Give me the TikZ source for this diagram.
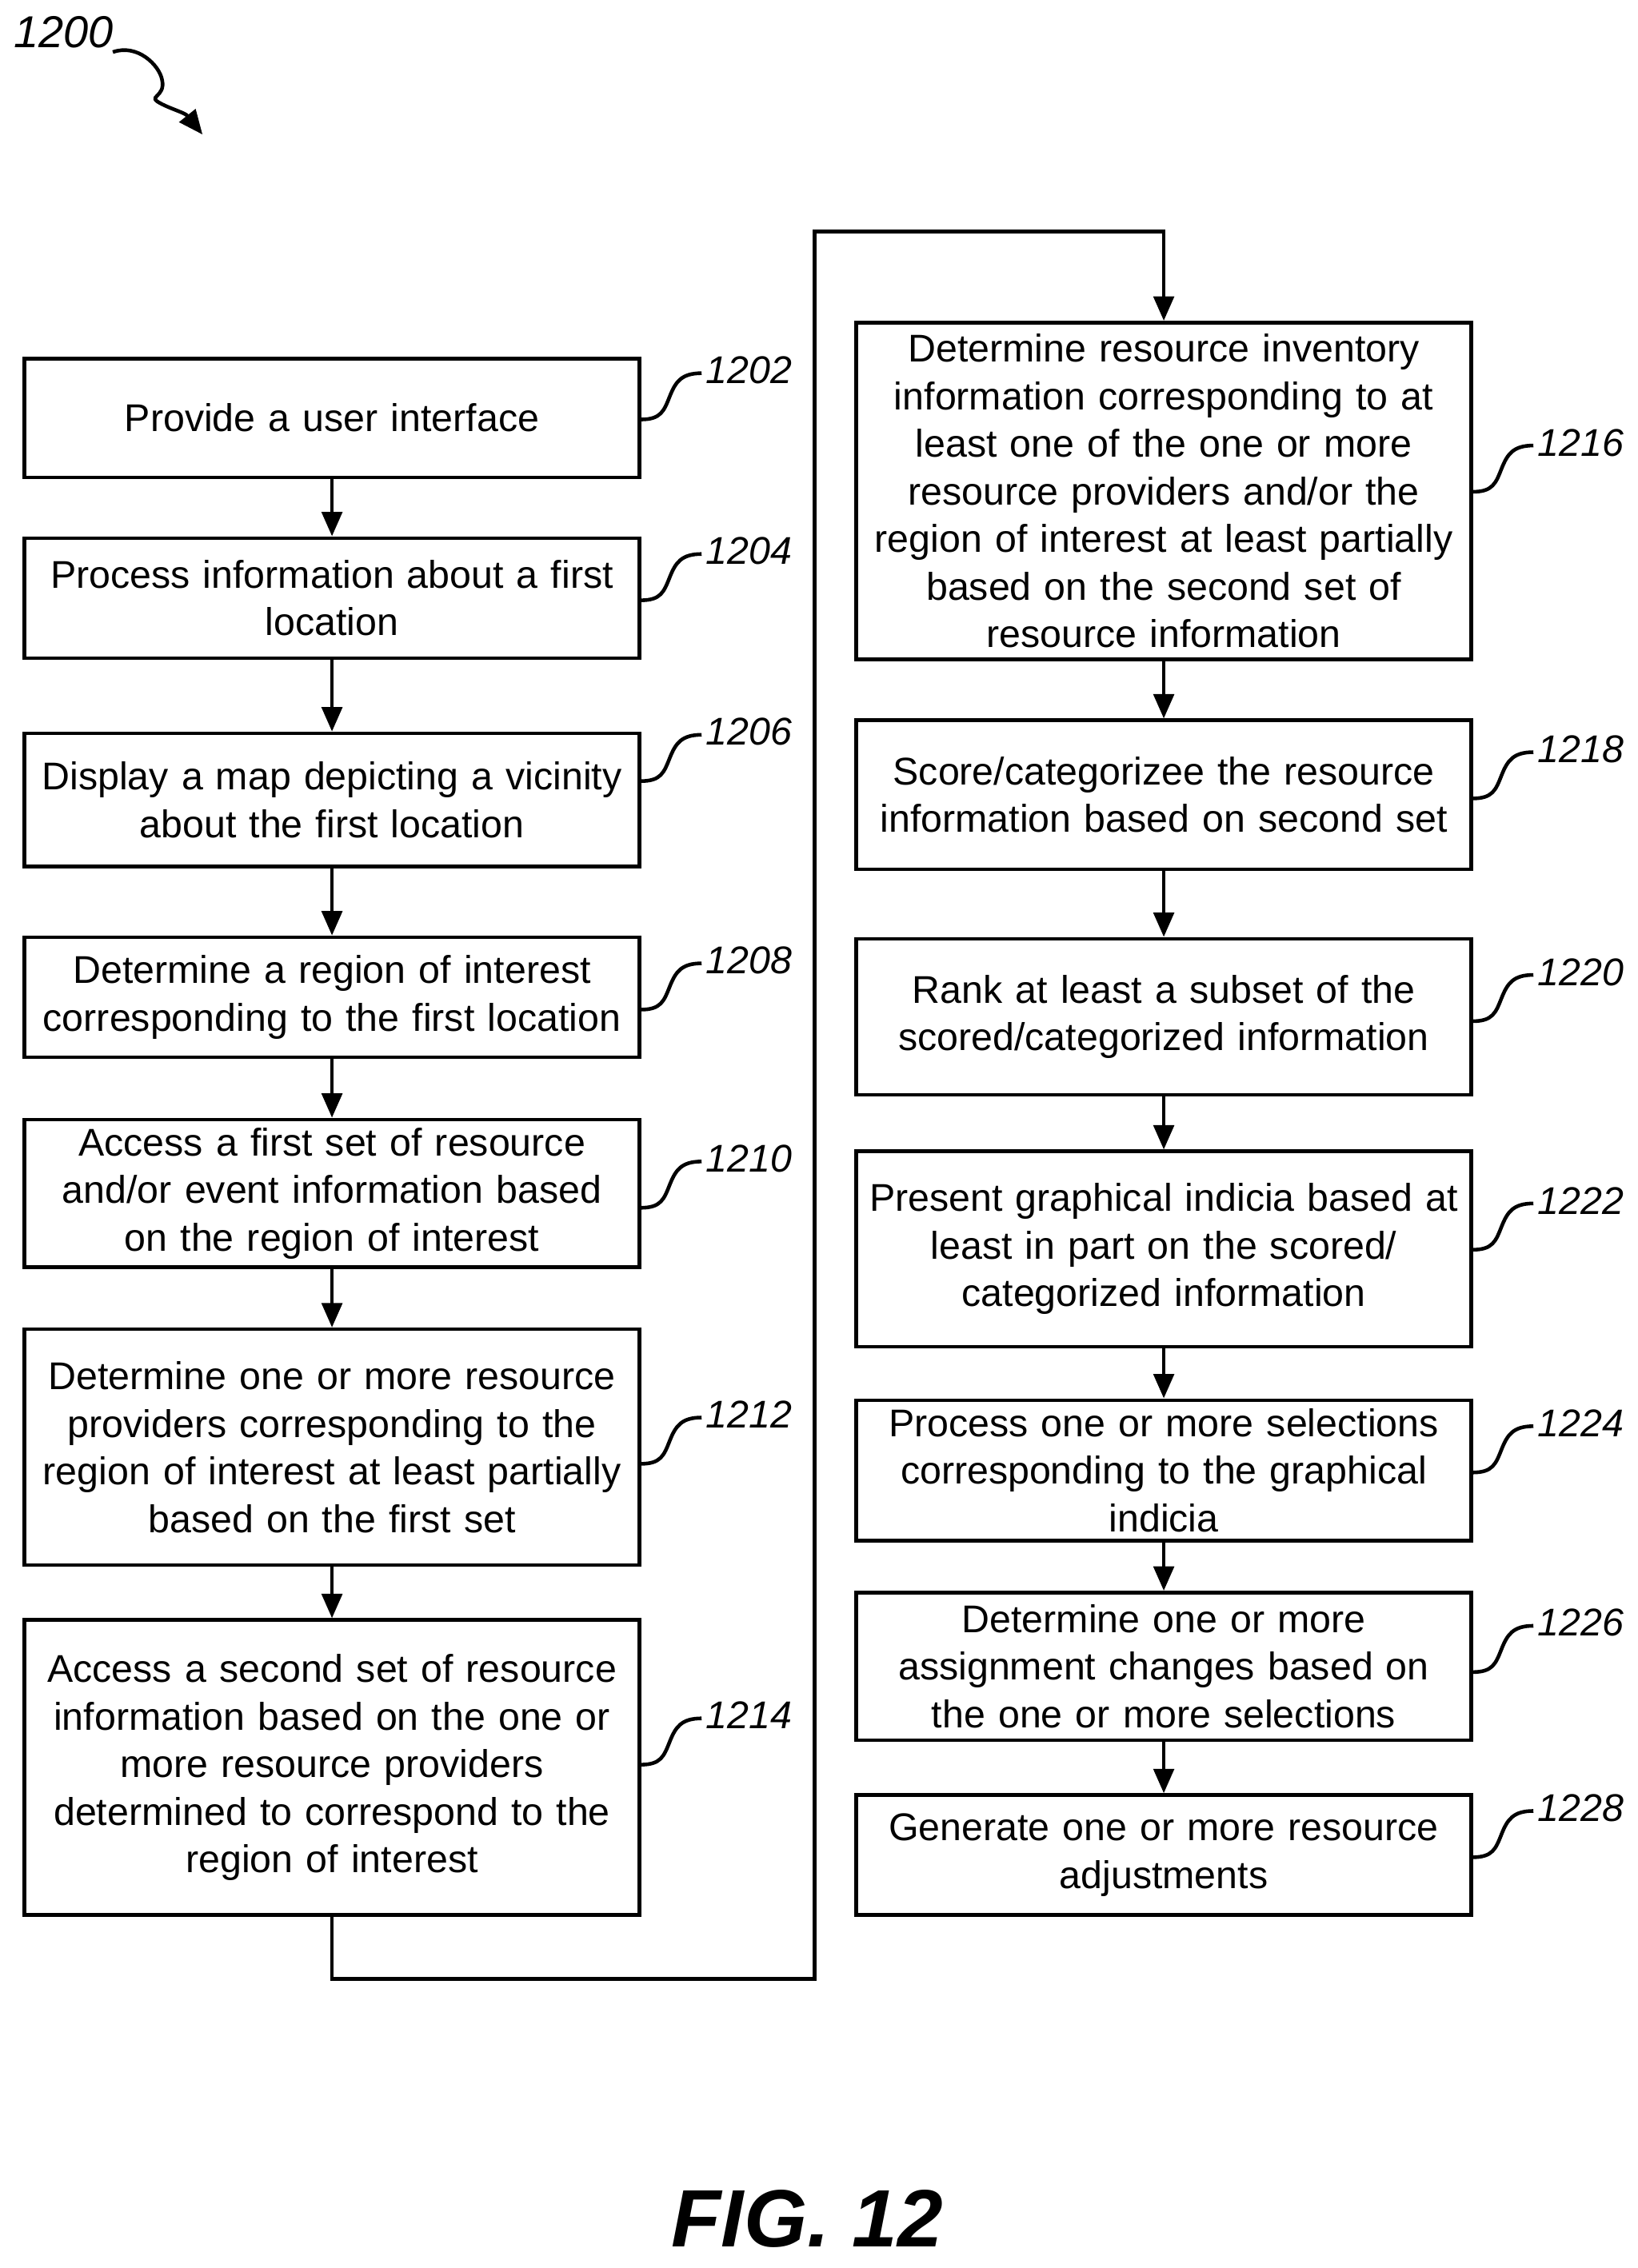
\documentclass[tikz,border=0pt]{standalone}
\usepackage{fontspec}
\setmainfont{Liberation Sans}
\usetikzlibrary{arrows.meta}
\begin{document}
\begin{tikzpicture}[x=0.025cm,y=-0.025cm,
 box/.style={draw,line width=1.8pt,rectangle,minimum width=10.625cm,text width=10.4cm,align=center,inner sep=0pt,font=\fontsize{19}{23.4}\selectfont},
 lab/.style={font=\fontsize{19}{22}\selectfont\itshape,anchor=west},
 ln/.style={line width=1.8pt},
 arr/.style={ln,-{Triangle[length=12pt,width=10pt]}}]
\useasboundingbox (0,0) rectangle (1132,1568);
\def\B#1#2#3#4#5{\node[box,minimum height={(#4-#3)*0.025cm}] (b#1) at (#2,{(#3+#4)/2}) {#5};}
\B{1202}{229.5}{248}{330}{Provide a user interface}
\B{1204}{229.5}{372}{455}{Process information about a first\\location}
\B{1206}{229.5}{507}{599}{Display a map depicting a vicinity\\about the first location}
\B{1208}{229.5}{648}{731}{Determine a region of interest\\corresponding to the first location}
\B{1210}{229.5}{774}{876}{Access a first set of resource\\and/or event information based\\on the region of interest}
\B{1212}{229.5}{919}{1082}{Determine one or more resource\\providers corresponding to the\\region of interest at least partially\\based on the first set}
\B{1214}{229.5}{1120}{1324}{Access a second set of resource\\information based on the one or\\more resource providers\\determined to correspond to the\\region of interest}
\B{1216}{804.5}{223}{456}{Determine resource inventory\\information corresponding to at\\least one of the one or more\\resource providers and/or the\\region of interest at least partially\\based on the second set of\\resource information}
\B{1218}{804.5}{498}{601}{Score/categorizee the resource\\information based on second set}
\B{1220}{804.5}{649}{757}{Rank at least a subset of the\\scored/categorized information}
\B{1222}{804.5}{796}{931}{Present graphical indicia based at\\least in part on the scored/\\categorized information}
\B{1224}{804.5}{968}{1065}{Process one or more selections\\corresponding to the graphical\\indicia}
\B{1226}{804.5}{1101}{1203}{Determine one or more\\assignment changes based on\\the one or more selections}
\B{1228}{804.5}{1241}{1324}{Generate one or more resource\\adjustments}
\foreach \a/\b in {1202/1204,1204/1206,1206/1208,1208/1210,1210/1212,1212/1214,1216/1218,1218/1220,1220/1222,1222/1224,1224/1226,1226/1228}
  \draw[arr] (b\a.south) -- (b\b.north);
\coordinate (c1) at (229.5,1368);
\coordinate (c2) at (563,1368);
\coordinate (c3) at (563,160);
\coordinate (c4) at (804.5,160);
\draw[arr] (b1214.south) -- (c1) -- (c2) -- (c3) -- (c4) -- (b1216.north);
\def\L#1#2#3{\coordinate (s#1) at (#2,{#3+32});
 \draw[ln] (s#1) .. controls ({#2+14},{#3+32}) and ({#2+16},{#3+26}) .. ({#2+20},{#3+16}) .. controls ({#2+24},{#3+6}) and ({#2+28},{#3}) .. ({#2+42},{#3});
 \node[lab] (l#1) at ({#2+40},{#3-2}) {#1};}
\L{1202}{443}{258}
\L{1204}{443}{383}
\L{1206}{443}{508}
\L{1208}{443}{666}
\L{1210}{443}{803}
\L{1212}{443}{980}
\L{1214}{443}{1188}
\L{1216}{1018}{308}
\L{1218}{1018}{520}
\L{1220}{1018}{674}
\L{1222}{1018}{832}
\L{1224}{1018}{986}
\L{1226}{1018}{1124}
\L{1228}{1018}{1252}
\node[font=\fontsize{22}{26}\selectfont\itshape] (t1200) at (44,22) {1200};
\coordinate (t1) at (78,36);
\coordinate (t2) at (140,93);
\draw[ln,-{Triangle[length=12pt,width=10pt]}] (t1) .. controls (95,30) and (110,45) .. (112,55) .. controls (115,68) and (100,66) .. (112,72) .. controls (120,76) and (128,78) .. (t2);
\node[font=\fontsize{40}{46}\selectfont\bfseries\itshape] (fig) at (558,1534) {FIG. 12};
\end{tikzpicture}
\end{document}
